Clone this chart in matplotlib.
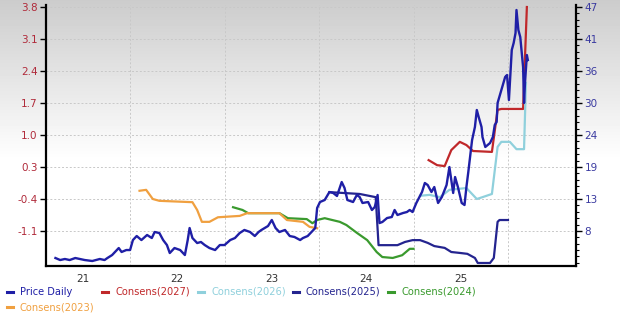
import numpy as np
import matplotlib.pyplot as plt
from matplotlib.lines import Line2D
from matplotlib.ticker import AutoMinorLocator

# precos diarios (eixo direito)
preco_t = [2020.71, 2020.76, 2020.81, 2020.86, 2020.92, 2020.97, 2021.02, 2021.10, 2021.18, 2021.23,
           2021.26, 2021.31, 2021.34, 2021.38, 2021.41, 2021.46, 2021.50, 2021.53, 2021.57, 2021.62,
           2021.68, 2021.73, 2021.76, 2021.81, 2021.85, 2021.89, 2021.92, 2021.97, 2022.03, 2022.08,
           2022.11, 2022.13, 2022.16, 2022.21, 2022.25, 2022.29, 2022.34, 2022.40, 2022.45, 2022.50,
           2022.56, 2022.61, 2022.66, 2022.71, 2022.77, 2022.82, 2022.86, 2022.89, 2022.96, 2023.00,
           2023.04, 2023.08, 2023.14, 2023.19, 2023.24, 2023.30, 2023.33, 2023.38, 2023.42, 2023.46,
           2023.48, 2023.51, 2023.56, 2023.61, 2023.65, 2023.69, 2023.74, 2023.77, 2023.80, 2023.86,
           2023.90, 2023.93, 2023.96, 2024.02, 2024.06, 2024.09, 2024.12, 2024.14, 2024.17, 2024.22,
           2024.27, 2024.30, 2024.33, 2024.39, 2024.43, 2024.46, 2024.49, 2024.53, 2024.59, 2024.62,
           2024.65, 2024.69, 2024.72, 2024.76, 2024.80, 2024.85, 2024.88, 2024.92, 2024.94, 2024.97,
           2025.01, 2025.04, 2025.06, 2025.08, 2025.12, 2025.15, 2025.17, 2025.19, 2025.22, 2025.23,
           2025.26, 2025.31, 2025.34, 2025.36, 2025.38, 2025.39, 2025.43, 2025.47, 2025.49, 2025.51,
           2025.54, 2025.56, 2025.58, 2025.59, 2025.61, 2025.63, 2025.66, 2025.67, 2025.68, 2025.70,
           2025.71]
preco = [3.30, 2.95, 3.13, 2.95, 3.30, 3.13, 2.95, 2.78, 3.13, 2.95,
         3.30, 3.82, 4.35, 5.04, 4.35, 4.69, 4.69, 6.43, 7.13, 6.43,
         7.31, 6.78, 7.83, 7.65, 6.43, 5.56, 4.17, 5.04, 4.69, 3.82,
         6.43, 8.52, 6.78, 5.91, 6.09, 5.56, 5.04, 4.69, 5.56, 5.56,
         6.43, 6.78, 7.65, 8.18, 7.83, 7.13, 7.83, 8.18, 8.87, 9.92,
         8.52, 7.83, 8.18, 7.13, 6.96, 6.43, 6.78, 7.13, 7.83, 8.52,
         12.01, 13.05, 13.40, 14.79, 14.62, 14.10, 16.53, 15.49, 13.40, 13.05,
         14.27, 13.92, 12.88, 13.05, 11.66, 12.18, 14.27, 9.39, 9.57, 10.26,
         10.44, 11.66, 10.79, 11.14, 11.31, 11.66, 11.31, 12.88, 14.79, 16.36,
         16.01, 14.79, 15.66, 12.88, 13.92, 16.01, 19.14, 14.62, 17.40, 15.66,
         12.88, 12.53, 15.66, 18.27, 23.84, 26.11, 29.07, 27.85, 26.11, 24.37,
         22.63, 23.32, 24.37, 26.46, 26.98, 30.29, 32.55, 34.81, 35.16, 30.81,
         39.51, 40.73, 42.47, 46.48, 43.00, 41.78, 36.55, 30.29, 33.77, 38.64,
         37.77]

# consensos (eixo esquerdo)
c2027_t = [2024.66, 2024.75, 2024.83, 2024.90, 2024.99, 2025.06, 2025.13, 2025.33, 2025.39, 2025.43,
           2025.66, 2025.67, 2025.70]
c2027 = [0.45, 0.34, 0.32, 0.67, 0.85, 0.78, 0.65, 0.63, 1.55, 1.57, 1.57, 2.14, 3.80]

c2026_t = [2024.57, 2024.67, 2024.78, 2024.88, 2025.06, 2025.17, 2025.23, 2025.33, 2025.39, 2025.43,
           2025.52, 2025.59, 2025.67, 2025.69]
c2026 = [-0.33, -0.31, -0.36, -0.20, -0.16, -0.40, -0.36, -0.29, 0.74, 0.85, 0.85, 0.69, 0.69, 2.14]

c2025_t = [2023.61, 2023.77, 2023.93, 2024.10, 2024.13, 2024.33, 2024.41, 2024.49, 2024.57, 2024.65,
           2024.72, 2024.83, 2024.90, 2024.99, 2025.07, 2025.15, 2025.18, 2025.31, 2025.35, 2025.39,
           2025.41, 2025.50]
c2025 = [-0.25, -0.27, -0.29, -0.36, -1.41, -1.41, -1.34, -1.30, -1.30, -1.36,
         -1.43, -1.47, -1.56, -1.58, -1.60, -1.69, -1.80, -1.80, -1.69, -0.90,
         -0.86, -0.86]

c2024_t = [2022.59, 2022.69, 2022.75, 2023.08, 2023.17, 2023.37, 2023.43, 2023.48, 2023.56, 2023.72,
           2023.79, 2023.90, 2024.01, 2024.11, 2024.17, 2024.28, 2024.38, 2024.46, 2024.50]
c2024 = [-0.58, -0.64, -0.71, -0.71, -0.82, -0.84, -0.93, -0.86, -0.82, -0.90,
         -0.97, -1.14, -1.30, -1.56, -1.67, -1.69, -1.63, -1.49, -1.49]

c2023_t = [2021.60, 2021.67, 2021.74, 2021.81, 2022.16, 2022.21, 2022.26, 2022.34, 2022.43, 2022.66,
           2022.74, 2023.08, 2023.16, 2023.33, 2023.40, 2023.48]
c2023 = [-0.22, -0.20, -0.40, -0.44, -0.47, -0.64, -0.90, -0.90, -0.80, -0.77,
         -0.71, -0.71, -0.86, -0.90, -1.01, -1.04]

anos = [2021, 2022, 2023, 2024, 2025]
anos_rotulos = ['21', '22', '23', '24', '25']
esq_ticks = [-1.1, -0.4, 0.3, 1.0, 1.7, 2.4, 3.1, 3.8]
dir_rotulos = ['8', '13', '19', '24', '30', '36', '41', '47']

cor_preco = '#1f1fa6'
cor_2027 = '#c0282a'
cor_2026 = '#8fd0dc'
cor_2025 = '#24248f'
cor_2024 = '#3a9a2e'
cor_2023 = '#f0a040'

plt.rcParams['font.family'] = 'DejaVu Sans'

fig = plt.figure(figsize=(6.2, 3.2), dpi=100)

# fundo em degrade
fundo = fig.add_axes([0, 0, 1, 1])
fundo.set_zorder(-1)
fundo.axis('off')
linhas = np.linspace(0, 1, 320)
grad = np.clip(0.80 + linhas / 0.5 * 0.20, 0, 1)
fundo.imshow(np.tile(grad[:, None], (1, 4)), cmap='gray', vmin=0, vmax=1,
             aspect='auto', extent=[0, 1, 0, 1])

ax = fig.add_axes([46 / 620, 54 / 320, 530 / 620, 261 / 320])
ax.patch.set_visible(False)
ax2 = ax.twinx()

ax2.plot(preco_t, preco, color=cor_preco, lw=1.7, zorder=3)
ax.plot(c2027_t, c2027, color=cor_2027, lw=1.6)
ax.plot(c2026_t, c2026, color=cor_2026, lw=1.6)
ax.plot(c2025_t, c2025, color=cor_2025, lw=1.6)
ax.plot(c2024_t, c2024, color=cor_2024, lw=1.6)
ax.plot(c2023_t, c2023, color=cor_2023, lw=1.6)

ax.set_xlim(2020.61, 2026.22)
ax.set_ylim(-1.866, 3.844)
ax2.set_ylim(1.91, 47.35)

ax.set_xticks(anos, anos_rotulos)
ax.set_xticks([a + 0.5 for a in anos], minor=True)
ax.tick_params(axis='x', which='both', length=0, labelsize=7.5, labelcolor='#333333', pad=6)
ax.set_yticks(esq_ticks, [f'{v:.1f}' for v in esq_ticks])
ax.tick_params(axis='y', length=4, width=1, labelsize=7.5, labelcolor='#b02a3a', pad=2)
ax.grid(axis='y', color='#c8c8c8', ls=(0, (2, 2)), lw=0.7)
ax.grid(axis='x', which='minor', color='#c8c8c8', ls=(0, (2, 2)), lw=0.7)

dir_pos = [47 - k * (45.44 / 8.16) for k in range(7, -1, -1)]
ax2.set_yticks(dir_pos, dir_rotulos)
ax2.yaxis.set_minor_locator(AutoMinorLocator(5))
ax2.tick_params(axis='y', which='major', length=4, width=1, labelsize=7.5, labelcolor='#3a3aa0', pad=2)
ax2.tick_params(axis='y', which='minor', length=2.5, width=0.8)

for lado in ['top', 'right']:
    ax.spines[lado].set_visible(False)
for lado in ['top', 'left', 'bottom']:
    ax2.spines[lado].set_visible(False)
ax.spines['left'].set_linewidth(1.6)
ax.spines['bottom'].set_linewidth(1.6)
ax2.spines['right'].set_linewidth(1.6)

# legenda manual
itens = [('Price Daily', cor_preco, 10, 292), ('Consens(2027)', cor_2027, 105, 292),
         ('Consens(2026)', cor_2026, 201, 292), ('Consens(2025)', cor_2025, 296, 292),
         ('Consens(2024)', cor_2024, 391, 292), ('Consens(2023)', cor_2023, 10, 307)]
for nome, cor, xp, yp in itens:
    fy = (320 - yp) / 320
    fig.add_artist(Line2D([(xp - 3) / 620, (xp + 3) / 620], [fy, fy], color=cor, lw=2.2))
    fig.text((xp + 10) / 620, fy, nome, color=cor, fontsize=7.1, va='center', ha='left')

fig.savefig('out.png', dpi=100)
